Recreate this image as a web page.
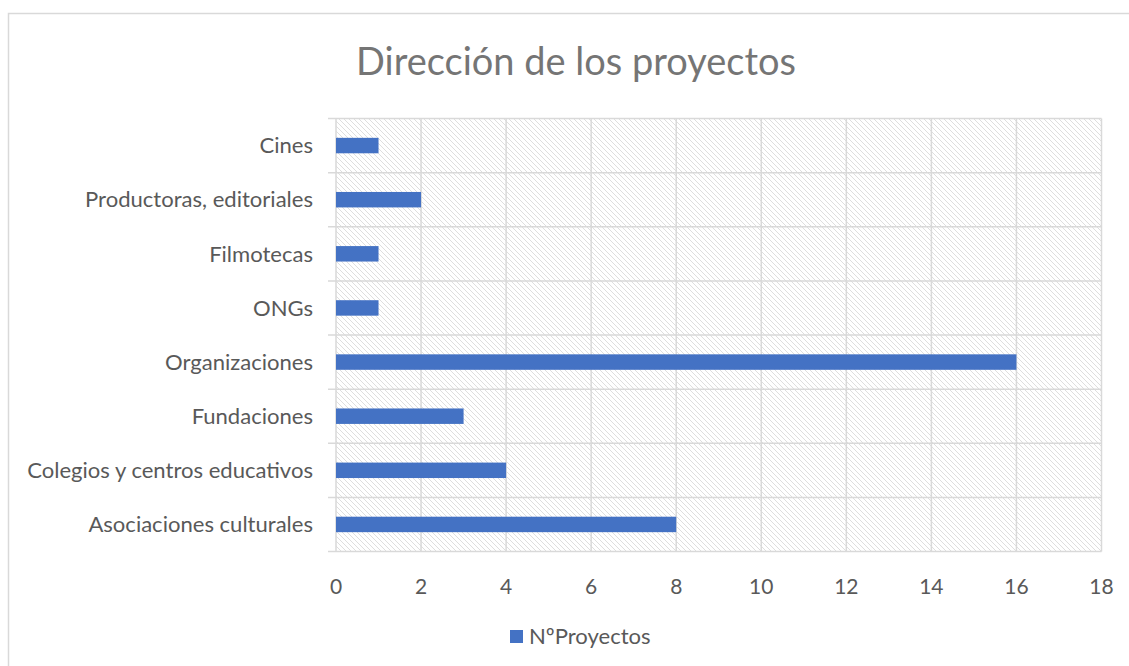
<!DOCTYPE html>
<html>
<head>
<meta charset="utf-8">
<script src="https://cdn.jsdelivr.net/npm/d3@7"></script>
<style>
  html, body { margin: 0; padding: 0; background: #fff; }
  svg { display: block; }
</style>
</head>
<body>
<svg id="chart"></svg>
<script>
// Chart data (bottom to top as in the picture)
const categories = [
    "Asociaciones culturales",
    "Colegios y centros educativos",
    "Fundaciones",
    "Organizaciones",
    "ONGs",
    "Filmotecas",
    "Productoras, editoriales",
    "Cines",
];
const proyectos = [8, 4, 3, 16, 1, 1, 2, 1];
const xTicks = [0, 2, 4, 6, 8, 10, 12, 14, 16, 18];
const seriesName = "NºProyectos";
const chartTitle = "Dirección de los proyectos";

const width = 1129;
const height = 666;
const font = "Lato, 'Open Sans', sans-serif";

const svg = d3
    .select("#chart")
    .attr("width", width)
    .attr("height", height);

// Hatch pattern for plot background
const defs = svg.append("defs");
defs.append("pattern")
    .attr("id", "hatch")
    .attr("patternUnits", "userSpaceOnUse")
    .attr("width", 5)
    .attr("height", 5)
    .append("path")
    .attr("d", "M-1,-1 L6,6 M-1,4 L1,6 M4,-1 L6,1")
    .attr("stroke", "#dedede")
    .attr("stroke-width", 1);

// Outer chart border (runs off the right / bottom edge)
svg.append("rect")
    .attr("x", 8.5)
    .attr("y", 13.5)
    .attr("width", width + 20)
    .attr("height", height + 20)
    .attr("fill", "none")
    .attr("stroke", "#d9d9d9")
    .attr("stroke-width", 1.5);

// Plot area
const plot = { left: 336, right: 1101.5, top: 118.5, bottom: 551.5 };

const x = d3
    .scaleLinear()
    .domain([0, 18])
    .range([plot.left, plot.right]);

const y = d3
    .scaleBand()
    .domain(categories.slice().reverse())
    .range([plot.top, plot.bottom])
    .paddingInner(0)
    .paddingOuter(0);

// hatched background
svg.append("rect")
    .attr("x", plot.left)
    .attr("y", plot.top)
    .attr("width", plot.right - plot.left)
    .attr("height", plot.bottom - plot.top)
    .attr("fill", "url(#hatch)");

// vertical gridlines
svg.append("g")
    .selectAll("line")
    .data(xTicks)
    .enter()
    .append("line")
    .attr("x1", (d) => x(d))
    .attr("x2", (d) => x(d))
    .attr("y1", plot.top)
    .attr("y2", plot.bottom)
    .attr("stroke", "#d9d9d9")
    .attr("stroke-width", 1.5);

// horizontal category lines (with outside tick marks)
const bounds = categories.map((c) => y(c)).concat([plot.bottom]);
svg.append("g")
    .selectAll("line")
    .data(bounds)
    .enter()
    .append("line")
    .attr("x1", plot.left - 8)
    .attr("x2", plot.right)
    .attr("y1", (d) => d)
    .attr("y2", (d) => d)
    .attr("stroke", "#d9d9d9")
    .attr("stroke-width", 1.5);

// bars
const barH = y.bandwidth() / 3.5;
svg.append("g")
    .selectAll("rect")
    .data(categories)
    .enter()
    .append("rect")
    .attr("x", x(0))
    .attr("y", (d) => y(d) + (y.bandwidth() - barH) / 2)
    .attr("width", (d, i) => x(proyectos[i]) - x(0))
    .attr("height", barH)
    .attr("fill", "#4472c4");

// Fit a text to a target width
const fitSize = (text, target, weight) => {
    const t = svg.append("text")
        .attr("font-family", font)
        .attr("font-weight", weight || 400)
        .attr("font-size", 100)
        .text(text);
    const w = t.node().getComputedTextLength();
    t.remove();
    return (100 * target) / w;
};

const labelSize = Math.min(fitSize("Colegios y centros educativos", 286), 24);

// category labels
svg.append("g")
    .selectAll("text")
    .data(categories)
    .enter()
    .append("text")
    .attr("x", 313)
    .attr("y", (d) => y(d) + y.bandwidth() / 2)
    .attr("dy", "0.35em")
    .attr("text-anchor", "end")
    .attr("font-family", font)
    .attr("font-size", labelSize)
    .attr("fill", "#595959")
    .text((d) => d);

// x tick labels
svg.append("g")
    .selectAll("text")
    .data(xTicks)
    .enter()
    .append("text")
    .attr("x", (d) => x(d))
    .attr("y", 594)
    .attr("text-anchor", "middle")
    .attr("font-family", font)
    .attr("font-size", 21)
    .attr("fill", "#595959")
    .text((d) => d);

// title
const titleSize = fitSize(chartTitle, 440);
svg.append("text")
    .attr("x", 576)
    .attr("y", 75)
    .attr("text-anchor", "middle")
    .attr("font-family", font)
    .attr("font-size", titleSize)
    .attr("fill", "#757575")
    .text(chartTitle);

// legend
const legend = svg.append("g");
legend.append("rect")
    .attr("x", 510)
    .attr("y", 630)
    .attr("width", 13)
    .attr("height", 13)
    .attr("fill", "#4472c4");
legend.append("text")
    .attr("x", 529)
    .attr("y", 644)
    .attr("font-family", font)
    .attr("font-size", labelSize)
    .attr("fill", "#595959")
    .text(seriesName);
</script>
</body>
</html>
